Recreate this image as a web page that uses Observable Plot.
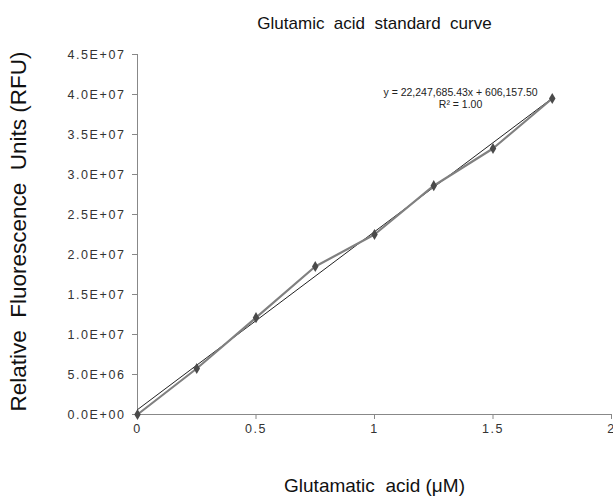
<!DOCTYPE html>
<html><head><meta charset="utf-8">
<script src="https://cdn.jsdelivr.net/npm/d3@7"></script>
<script src="https://cdn.jsdelivr.net/npm/@observablehq/plot@0.6"></script>
<style>body{margin:0;background:#fff;} svg{font-family:"Liberation Sans",Arial,sans-serif;} svg text{white-space:pre;}</style>
</head><body><div id="chart"></div>
<script>
const concentration = [0, 0.25, 0.5, 0.75, 1, 1.25, 1.5, 1.75];
const rfu = [0, 5.75e6, 12.1e6, 18.5e6, 22.5e6, 28.6e6, 33.25e6, 39.5e6];
const yTicks = [0, 5e6, 10e6, 15e6, 20e6, 25e6, 30e6, 35e6, 40e6, 45e6];
const yTickLabels = ["0.0E+00","5.0E+06","1.0E+07","1.5E+07","2.0E+07","2.5E+07","3.0E+07","3.5E+07","4.0E+07","4.5E+07"];
const xTicks = [0, 0.5, 1, 1.5, 2];
const xTickLabels = ["0","0.5","1","1.5","2"];
const slope = 22247685.43, intercept = 606157.50;
const trendX = [0, 1.75];
const equationLines = ["y = 22,247,685.43x + 606,157.50", "R² = 1.00"];
const title = "Glutamic  acid  standard  curve";
const xLabel = "Glutamatic  acid (μM)";
const yLabel = "Relative  Fluorescence  Units (RFU)";

const data = concentration.map((x, i) => ({x, y: rfu[i]}));
const trend = trendX.map(x => ({x, y: slope * x + intercept}));

const chart = Plot.plot({
  width: 613, height: 500,
  marginLeft: 137, marginRight: 2, marginTop: 54, marginBottom: 86,
  style: {fontFamily: '"Liberation Sans", Arial, sans-serif', background: "#fff"},
  x: {domain: [0, 2]},
  y: {domain: [0, 45e6]},
  marks: [
    Plot.ruleX([0], {stroke: "#888", strokeWidth: 1}),
    Plot.ruleY([0], {stroke: "#888", strokeWidth: 1}),
    Plot.axisY({ticks: yTicks, tickFormat: (d) => yTickLabels[yTicks.indexOf(d)], tickSize: 5, stroke: "#888", tickPadding: 7, fontSize: 12.5, color: "#333", label: null}),
    Plot.axisX({ticks: xTicks, tickFormat: (d) => xTickLabels[xTicks.indexOf(d)], tickSize: 5, stroke: "#888", tickPadding: 5, fontSize: 12.5, color: "#333", label: null}),
    Plot.line(trend, {x: "x", y: "y", stroke: "#222", strokeWidth: 1}),
    Plot.line(data, {x: "x", y: "y", stroke: "#808080", strokeWidth: 2.2}),
    Plot.dot(data, {x: "x", y: "y", symbol: "diamond", r: 3.4, fill: "#4a4a4a", stroke: "none"}),
    Plot.text([equationLines.join("\n")], {x: 1.363, y: 39.6e6, text: d => d, fontSize: 10.5, fill: "#222", lineHeight: 1.15, textAnchor: "middle"}),
    Plot.text([title], {frameAnchor: "top", dy: -38, text: d => d, fontSize: 17, fill: "#111"}),
    Plot.text([xLabel], {frameAnchor: "bottom", dy: 77, text: d => d, fontSize: 19, fill: "#111"}),
    Plot.text([yLabel], {frameAnchor: "left", dx: -119, dy: -3, rotate: -90, textAnchor: "middle", text: d => d, fontSize: 22.5, fill: "#111"})
  ]
});
chart.querySelectorAll("g[aria-label='y-axis tick label'] text, g[aria-label='x-axis tick label'] text").forEach(t => t.setAttribute("letter-spacing", "1.6"));
document.getElementById("chart").appendChild(chart);
</script></body></html>
